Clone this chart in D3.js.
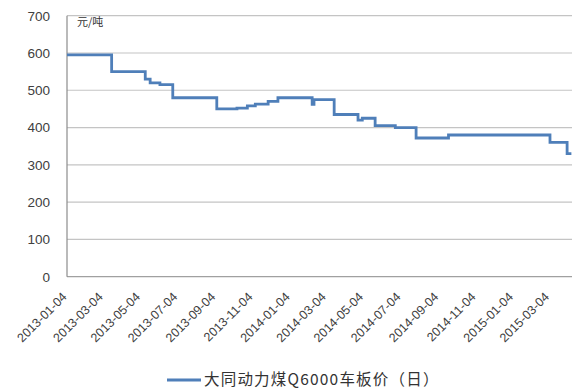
<!DOCTYPE html>
<html>
<head>
<meta charset="utf-8">
<script src="https://cdn.jsdelivr.net/npm/d3@7"></script>
<style>
  html, body { margin: 0; padding: 0; background: #fff; }
  svg { display: block; }
</style>
</head>
<body>
<svg id="chart" width="572" height="389"></svg>
<script>
// Datong thermal coal Q6000 on-rail price, daily (yuan/tonne); each date starts a new price level
const priceDates = [
  "2013-01-04", "2013-03-18", "2013-05-12", "2013-05-20", "2013-06-05",
  "2013-06-26", "2013-09-06", "2013-10-09", "2013-10-26", "2013-11-08",
  "2013-11-29", "2013-12-15", "2014-02-09", "2014-02-12", "2014-03-17",
  "2014-04-25", "2014-05-02", "2014-05-23", "2014-06-25", "2014-07-29",
  "2014-09-20", "2015-03-05", "2015-04-02", "2015-04-09"
];
const priceValues = [
  595, 550, 530, 520, 515,
  480, 450, 452, 458, 463,
  470, 480, 462, 475, 435,
  420, 425, 405, 400, 372,
  380, 360, 330, 330
];
const xTickLabels = [
  "2013-01-04", "2013-03-04", "2013-05-04", "2013-07-04", "2013-09-04",
  "2013-11-04", "2014-01-04", "2014-03-04", "2014-05-04", "2014-07-04",
  "2014-09-04", "2014-11-04", "2015-01-04", "2015-03-04"
];
const yTickValues = [0, 100, 200, 300, 400, 500, 600, 700];
const unitLabel = "元/吨";
const seriesName = "大同动力煤Q6000车板价（日）";

const parse = d3.timeParse("%Y-%m-%d");
const fmt = d3.timeFormat("%Y-%m-%d");
const data = priceDates.map((d, i) => ({ date: parse(d), value: priceValues[i] }));

const svg = d3.select("#chart");
const plotLeft = 67, plotRight = 572, plotTop = 15.7, plotBottom = 276.7;

const x = d3.scaleTime()
  .domain([parse("2013-01-04"), parse("2015-04-10")])
  .range([plotLeft, plotRight]);
const y = d3.scaleLinear().domain([0, 700]).range([plotBottom, plotTop]);

const lineColor = "#4f7fb9";
const textColor = "#404040";

// y axis labels
const yAxis = d3.axisLeft(y).tickValues(yTickValues).tickSize(0).tickPadding(17);
const gy = svg.append("g").attr("transform", `translate(${plotLeft},0)`).call(yAxis);
gy.select(".domain").remove();
gy.selectAll("text")
  .attr("fill", textColor)
  .style("font-family", "'Liberation Sans', Arial, sans-serif")
  .style("font-size", "13.5px");

// horizontal gridlines
svg.append("g").selectAll("line")
  .data(yTickValues.filter(v => v > 0))
  .join("line")
  .attr("x1", plotLeft).attr("x2", plotRight)
  .attr("y1", d => y(d)).attr("y2", d => y(d))
  .attr("stroke", "#c4c4c4").attr("stroke-width", 1.2);

// axis lines
svg.append("line")
  .attr("x1", plotLeft).attr("x2", plotRight)
  .attr("y1", y(0)).attr("y2", y(0))
  .attr("stroke", "#a0a0a0").attr("stroke-width", 1.2);
svg.append("line")
  .attr("x1", plotLeft).attr("x2", plotLeft)
  .attr("y1", y(700)).attr("y2", y(0))
  .attr("stroke", "#8c8c8c").attr("stroke-width", 1.2);

// x axis labels, rotated
const xAxis = d3.axisBottom(x)
  .tickValues(xTickLabels.map(parse))
  .tickFormat(fmt)
  .tickSize(0);
const gx = svg.append("g").attr("transform", `translate(0,${plotBottom})`).call(xAxis);
gx.select(".domain").remove();
gx.selectAll("text")
  .attr("fill", textColor)
  .style("font-family", "'Liberation Sans', Arial, sans-serif")
  .style("font-size", "12.5px")
  .attr("text-anchor", "end")
  .attr("dy", null)
  .attr("y", 0)
  .attr("transform", "translate(0,21) rotate(-45)");

// unit label
svg.append("text")
  .attr("x", 77).attr("y", 26)
  .attr("fill", "#333")
  .style("font-family", "'Noto Sans CJK SC', sans-serif")
  .style("font-size", "11px")
  .text(unitLabel);

// price line
const line = d3.line()
  .x(d => x(d.date))
  .y(d => y(d.value))
  .curve(d3.curveStepAfter);
svg.append("path")
  .datum(data)
  .attr("d", line)
  .attr("fill", "none")
  .attr("stroke", lineColor)
  .attr("stroke-width", 2.8);

// legend
svg.append("line")
  .attr("x1", 167).attr("x2", 201)
  .attr("y1", 380).attr("y2", 380)
  .attr("stroke", lineColor).attr("stroke-width", 3);
svg.append("text")
  .attr("x", 204).attr("y", 385)
  .attr("fill", "#333")
  .style("font-family", "'Noto Sans CJK SC', sans-serif")
  .style("font-size", "15.5px")
  .style("letter-spacing", "1.2px")
  .text(seriesName);
</script>
</body>
</html>
